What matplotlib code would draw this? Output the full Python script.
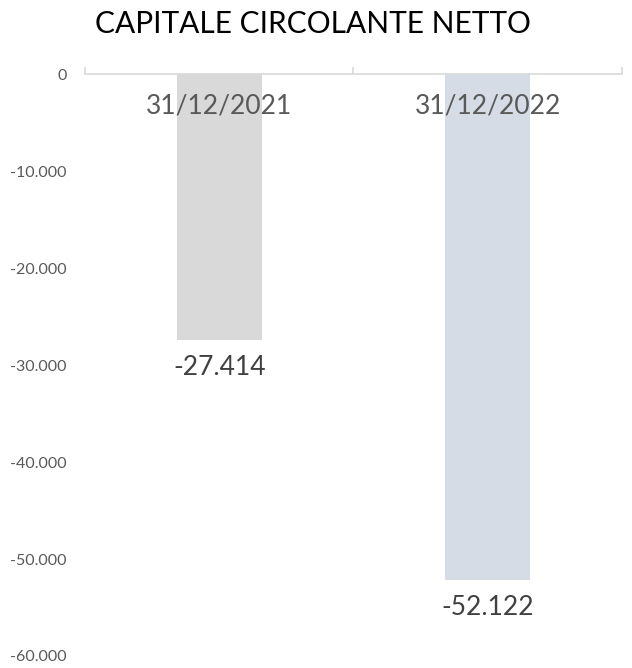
import numpy
from matplotlib import pyplot

categories = ["31/12/2021", "31/12/2022"]
values = [-27414, -52122]
value_labels = ["-27.414", "-52.122"]
bar_colors = ["#d9d9d9", "#d6dce5"]
y_ticks = [0, -10000, -20000, -30000, -40000, -50000, -60000]
y_tick_labels = ["0", "-10.000", "-20.000", "-30.000", "-40.000", "-50.000", "-60.000"]

pyplot.rcParams['font.family'] = ['Lato', 'DejaVu Sans']

ind = numpy.arange(len(categories))
width = 0.317

figure = pyplot.figure(figsize=(6.32, 6.68), dpi=100)
axes = figure.add_axes([0.1345, 0.018, 0.8495, 0.871])

axes.bar(ind, values, width, color=bar_colors, zorder=2)

axes.set_xlim(-0.5, len(categories) - 0.5)
axes.set_ylim(-60000, 0)
axes.set_yticks(y_ticks)
axes.set_yticklabels(y_tick_labels, color="#595959", fontsize=11.5)
axes.tick_params(axis="y", length=0, pad=13)

for side in ("left", "right", "bottom"):
    axes.spines[side].set_visible(False)
axes.spines["top"].set_color("#d9d9d9")
axes.spines["top"].set_linewidth(1.2)

# category boundary ticks on the zero line
axes.xaxis.tick_top()
axes.set_xticks([])
axes.set_xticks(numpy.arange(-0.5, len(categories)), minor=True)
axes.tick_params(axis="x", which="minor", direction="out", length=5,
                 width=1.2, color="#d9d9d9")

for i, name in enumerate(categories):
    axes.annotate(name, xy=(ind[i], 0), xytext=(0, -23), textcoords="offset points",
                  ha="center", va="center", fontsize=19, color="#595959")

for i, v in enumerate(values):
    axes.annotate(value_labels[i], xy=(ind[i], v), xytext=(0, -20), textcoords="offset points",
                  ha="center", va="center", fontsize=19, color="#404040")

figure.text(0.495, 0.964, "CAPITALE CIRCOLANTE NETTO", ha="center", va="center",
            fontsize=21.5, color="black")

figure.savefig("out.png", dpi=100)
